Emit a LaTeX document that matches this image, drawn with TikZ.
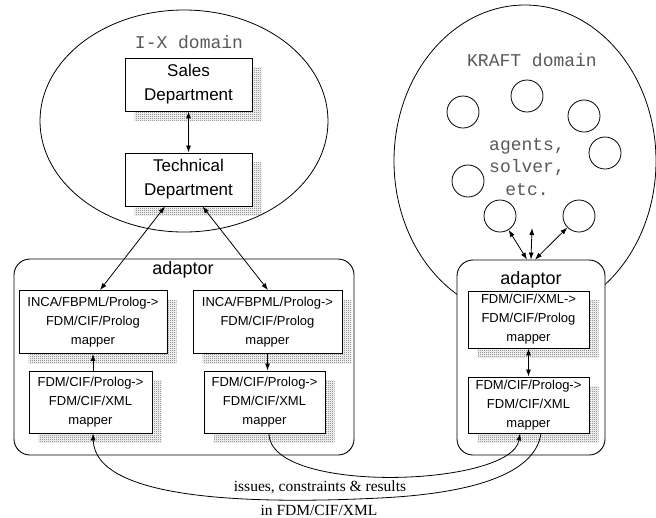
\documentclass[tikz,border=0pt]{standalone}
\usepackage{fontspec}
\setmainfont{Liberation Serif}
\setsansfont{Liberation Sans}
\setmonofont{Liberation Mono}
\usetikzlibrary{arrows.meta,shapes.geometric,shadows,patterns}
\pgfdeclarepatternformonly{finedots}{\pgfpointorigin}{\pgfpoint{2pt}{2pt}}{\pgfpoint{2pt}{2pt}}{%
  \pgfpathrectangle{\pgfpointorigin}{\pgfpoint{1pt}{1pt}}%
  \pgfpathrectangle{\pgfpoint{1pt}{1pt}}{\pgfpoint{1pt}{1pt}}%
  \pgfusepath{fill}}
\begin{document}
\begin{tikzpicture}[x=1pt,y=-1pt,
  >={Latex[length=7pt,width=5pt]},
  conn/.style={line width=0.8pt},
  dom/.style={draw,ellipse,inner sep=0pt,line width=0.8pt},
  shadowbox/.style={general shadow={shadow xshift=9.5pt,shadow yshift=-9.5pt,pattern=finedots,pattern color=black!60}},
  dept/.style={shadowbox,draw,fill=white,line width=0.9pt,inner sep=0pt,align=center,
    font=\sffamily\fontsize{17}{24}\selectfont,minimum width=127pt,minimum height=53pt},
  mapper/.style={shadowbox,draw,fill=white,line width=0.9pt,inner sep=0pt,align=center,
    font=\sffamily\fontsize{13}{19}\selectfont},
  adapt/.style={draw,fill=white,rounded corners=16pt,line width=0.9pt,inner sep=0pt},
  agent/.style={draw,circle,minimum size=32pt,inner sep=0pt,line width=0.8pt},
  mono/.style={font=\ttfamily\fontsize{18}{22.5}\selectfont,text=black!65,align=center},
  adlab/.style={font=\sffamily\fontsize{18}{22}\selectfont},
  caption/.style={font=\rmfamily\fontsize{15.5}{22}\selectfont}
]
\useasboundingbox (0,0) rectangle (656,517);

% domains
\node[dom,minimum width=288pt,minimum height=222pt] (ix) at (184,121) {};
\node[dom,minimum width=262pt,minimum height=312pt] (kraft) at (525,161) {};
\node[mono] (ixlab) at (189,42) {I-X domain};
\node[mono] (kraftlab) at (532,60) {KRAFT domain};

% I-X departments
\node[dept] (sales) at (188.5,84.5) {Sales\\Department};
\node[dept] (tech) at (188.5,179.5) {Technical\\Department};

% KRAFT agents
\node[agent] (c1) at (463,112) {};
\node[agent] (c2) at (527,96) {};
\node[agent] (c3) at (584,116) {};
\node[agent] (c4) at (605,153) {};
\node[agent] (c5) at (468,181) {};
\node[agent] (c6) at (500,216) {};
\node[agent] (c7) at (579,216) {};
\node[mono] (agtxt) at (527,167) {agents,\\solver,\\etc.};

% adaptors
\node[adapt,minimum width=340pt,minimum height=196pt] (ladapt) at (184,357) {};
\node[adapt,minimum width=148pt,minimum height=195pt] (radapt) at (531,357.5) {};
\node[adlab] (lalab) at (183,270) {adaptor};
\node[adlab] (ralab) at (531,280) {adaptor};

% mappers
\node[mapper,minimum width=148pt,minimum height=63pt] (L1) at (93,322) {INCA/FBPML/Prolog->\\FDM/CIF/Prolog\\mapper};
\node[mapper,minimum width=123pt,minimum height=62pt] (L2) at (90.5,402) {FDM/CIF/Prolog->\\FDM/CIF/XML\\mapper};
\node[mapper,minimum width=149pt,minimum height=63pt] (L3) at (267.5,322) {INCA/FBPML/Prolog->\\FDM/CIF/Prolog\\mapper};
\node[mapper,minimum width=121pt,minimum height=62pt] (L4) at (264.5,402) {FDM/CIF/Prolog->\\FDM/CIF/XML\\mapper};
\node[mapper,minimum width=121pt,minimum height=57pt] (R1) at (528.5,319.5) {FDM/CIF/XML->\\FDM/CIF/Prolog\\mapper};
\node[mapper,minimum width=121pt,minimum height=56pt] (R2) at (528.5,405) {FDM/CIF/Prolog->\\FDM/CIF/XML\\mapper};

% connectors
\draw[conn,<->] (sales.south) -- (tech.north);
\draw[conn,<->] ([xshift=-23.5pt]tech.south) -- ([xshift=7pt]L1.north);
\draw[conn,<->] ([xshift=14pt]tech.south) -- ([xshift=0.5pt]L3.north);
\draw[conn,->] (L2.north -| L1.south) -- (L1.south);
\draw[conn,->] (L3.south) -- (L3.south |- L4.north);
\draw[conn,<->] (R1.south) -- (R2.north);

\coordinate (amid) at (532,228);
\draw[conn,<->] ([xshift=-4pt]radapt.north) -- (c6);
\draw[conn,<->] (radapt.north) -- (amid);
\draw[conn,<->] ([xshift=4pt]radapt.north) -- (c7);

% curves
\coordinate (lowmid) at (380,498);
\draw[conn,->] ([xshift=4.5pt]L4.south) .. controls (269,495) and (512,487) .. ([xshift=-8.5pt]R2.south);
\draw[conn,->] ([xshift=12.5pt]R2.south) .. controls (535,475) and (470,493.5) .. (lowmid)
  .. controls (250,504.5) and (95,500) .. ([xshift=2.5pt]L2.south);

\node[caption] (cap1) at (320,487) {issues, constraints \& results};
\node[caption] (cap2) at (319,510) {in FDM/CIF/XML};
\end{tikzpicture}
\end{document}
